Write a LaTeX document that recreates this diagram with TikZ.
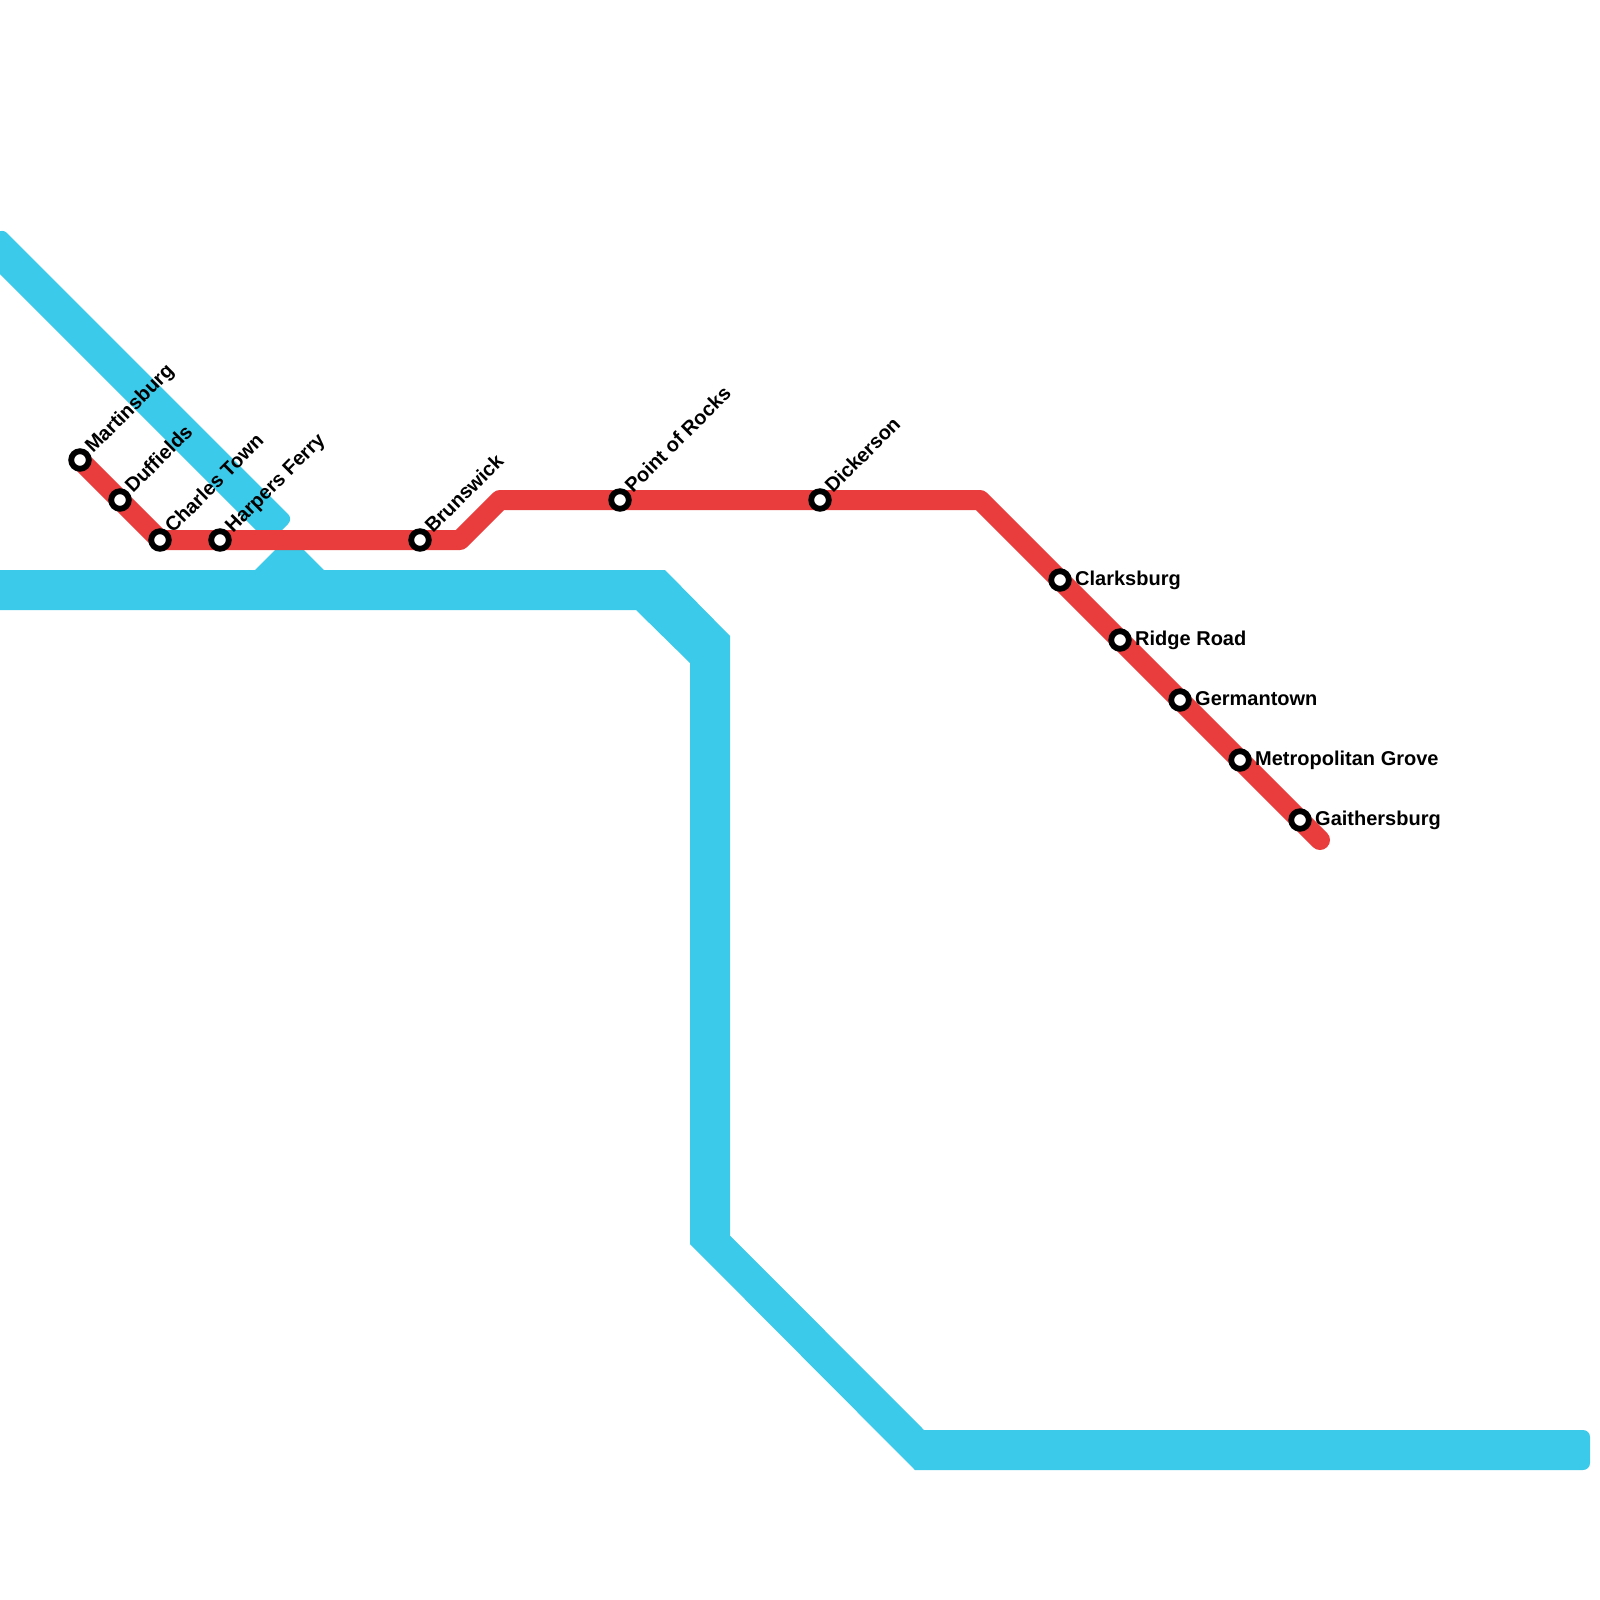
\documentclass[tikz,border=0pt]{standalone}
\usepackage{fontspec}
\setmainfont{Liberation Sans}
\definecolor{linered}{HTML}{E93D3D}
\definecolor{lineblue}{HTML}{3BCAE9}
\tikzset{
    station/.style={circle, draw=black, fill=white, line width=5.8, inner sep=0pt, outer sep=0pt, minimum size=17.6},
    stationname/.style={font=\fontsize{20}{22}\selectfont\bfseries, anchor=west, inner sep=0pt, text height=14, text depth=4},
    redline/.style={linered, line width=20, line cap=round, line join=round},
}
\begin{document}
\begin{tikzpicture}[x=1pt, y=-1pt]
    \useasboundingbox (0,0) rectangle (1600,1600);
    % bends of the red line
    \coordinate (r0) at (80,460);
    \coordinate (r1) at (160,540);
    \coordinate (r2) at (460,540);
    \coordinate (r3) at (500,500);
    \coordinate (r4) at (980,500);
    \coordinate (r5) at (1320,840);
    % blue, wide line
    \fill[lineblue] (-10,570) -- (665,570) -- (730,636) -- (730,1235.5) -- (924,1430)
        [rounded corners=7] -- (1590,1430) -- (1590,1470) [sharp corners] -- (915,1470)
        -- (690,1244) -- (690,663) -- (636,610) -- (-10,610) -- cycle;
    % blue, stub under the red line
    \fill[lineblue, rounded corners=6] (235,590) -- (280,545) -- (299,545) -- (344,590) -- cycle;
    % blue, diagonal
    \fill[lineblue, rounded corners=7] (2,228) -- (293,519) -- (269,543) -- (-22,252) -- cycle;
    % red
    \draw[redline] (r0) -- (r1) -- (r2) -- (r3) -- (r4) -- (r5);
    % stations
    \foreach \name/\px/\py/\txt in {
        mart/80/460/Martinsburg, duff/120/500/Duffields, char/160/540/Charles Town,
        harp/220/540/Harpers Ferry, brun/420/540/Brunswick, poin/620/500/Point of Rocks,
        dick/820/500/Dickerson}{
        \node[station] (\name) at (\px,\py) {};
        \node[stationname, rotate=45] (\name-label) at ([shift={(9.5,-9.5)}]\name.center) {\txt};
    }
    \foreach \name/\px/\py/\txt in {
        clar/1060/580/Clarksburg, ridg/1120/640/Ridge Road, germ/1180/700/Germantown,
        metr/1240/760/Metropolitan Grove, gait/1300/820/Gaithersburg}{
        \node[station] (\name) at (\px,\py) {};
        \node[stationname] (\name-label) at ([shift={(15,0)}]\name.center) {\txt};
    }
\end{tikzpicture}
\end{document}
